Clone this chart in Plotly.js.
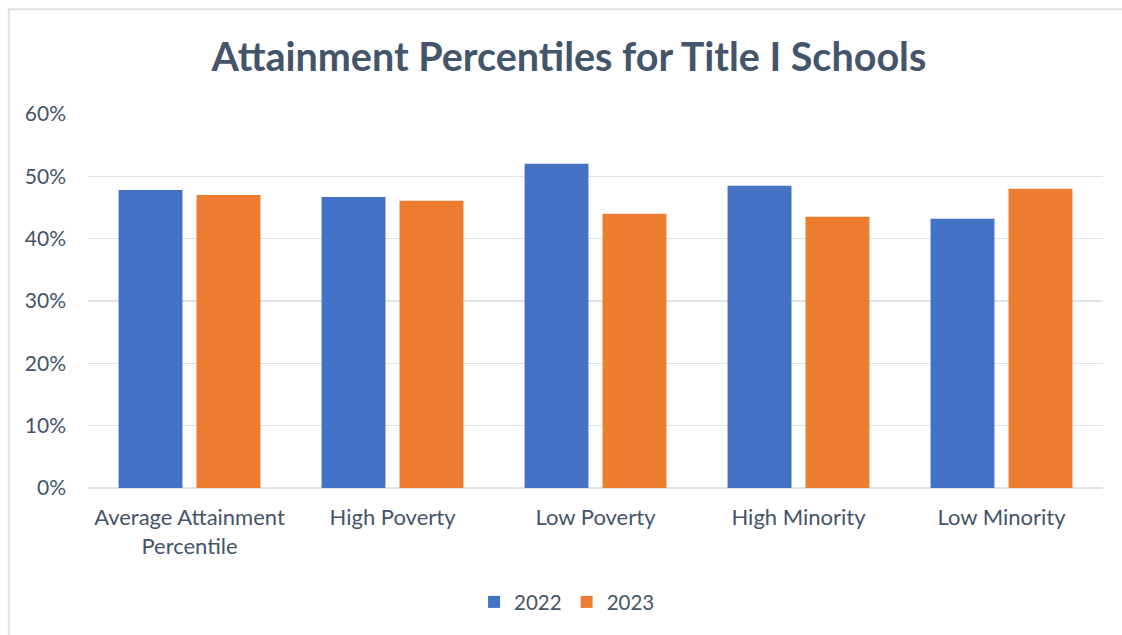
<!DOCTYPE html>
<html>
<head>
<meta charset="utf-8">
<script src="https://cdn.plot.ly/plotly-3.0.1.min.js"></script>
<style>html,body{margin:0;padding:0;background:#fff;}#chart{width:1122px;height:635px;}</style>
</head>
<body>
<div id="chart"></div>
<script>
const categories = ["Average Attainment<br>Percentile", "High Poverty", "Low Poverty", "High Minority", "Low Minority"];
const values2022 = [0.478, 0.467, 0.520, 0.485, 0.432];
const values2023 = [0.470, 0.461, 0.440, 0.435, 0.480];
const seriesNames = ["2022", "2023"];
const yTickVals = [0, 0.1, 0.2, 0.3, 0.4, 0.5, 0.6];

const font = "Lato, 'Open Sans', sans-serif";
const textColor = "#44546A";

const traces = [
  {type: "bar", name: seriesNames[0], x: categories, y: values2022, marker: {color: "#4472C4"}, hoverinfo: "none"},
  {type: "bar", name: seriesNames[1], x: categories, y: values2023, marker: {color: "#ED7D31"}, hoverinfo: "none"}
];

const layout = {
  width: 1122, height: 635,
  paper_bgcolor: "#fff", plot_bgcolor: "#fff",
  margin: {l: 88, r: 19, t: 114, b: 147},
  barmode: "group", bargap: 0.232, bargroupgap: 0.18,
  title: {text: "<b>Attainment Percentiles for Title I Schools</b>", font: {family: font, size: 39.5, color: textColor},
          x: 0.507, xref: "container", xanchor: "center", y: 0.91, yref: "container", yanchor: "middle"},
  xaxis: {tickfont: {family: font, size: 22, color: textColor}, showgrid: false, showline: false, zeroline: false, ticks: "", ticklabelstandoff: 14},
  yaxis: {range: [0, 0.6], tickvals: yTickVals, tickformat: ".0%", tickfont: {family: font, size: 21, color: textColor},
          showgrid: true, gridcolor: "#DDE1E8", gridwidth: 1.5, zeroline: true, zerolinecolor: "#DDE1E8", zerolinewidth: 2,
          showline: false, ticks: "", ticklabelstandoff: 21},
  showlegend: true,
  legend: {orientation: "h", x: 0.472, xanchor: "center", y: -0.305, yanchor: "middle",
           font: {family: font, size: 20.5, color: textColor}, itemwidth: 30, traceorder: "normal"},
  shapes: [{type: "rect", xref: "paper", yref: "paper", x0: -0.078, x1: 1.2, y0: -0.5, y1: 1.28,
            line: {color: "#DDE1E8", width: 2}, fillcolor: "rgba(0,0,0,0)", layer: "below"}]
};

Plotly.newPlot("chart", traces, layout, {displayModeBar: false, staticPlot: true});
</script>
</body>
</html>
